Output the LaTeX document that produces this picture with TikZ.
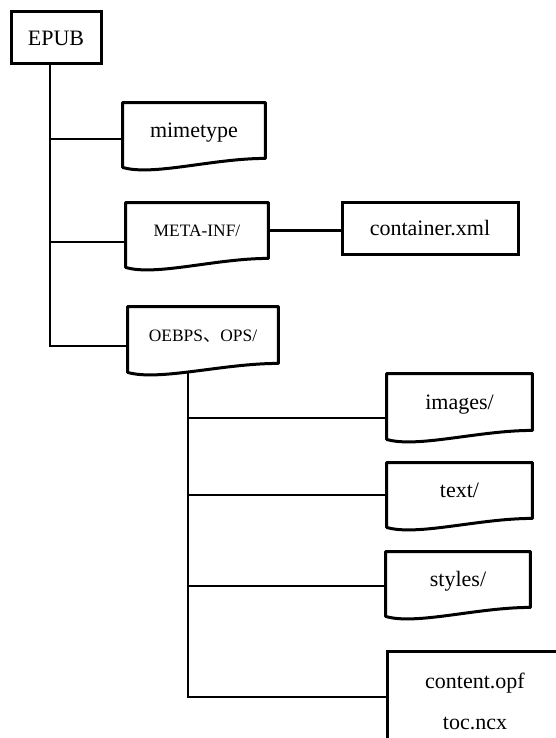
\documentclass[tikz,border=0pt]{standalone}
\usepackage{fontspec}
\setmainfont{Liberation Serif}
\newfontfamily\cjk{Noto Sans CJK SC}
\usetikzlibrary{calc}

% folder / file shape with a wavy bottom edge
\newcommand{\docshape}[1]{%
  \draw[docline] ($(#1.south west)+(0,9)$) -- (#1.north west) -- (#1.north east) -- (#1.south east)
    .. controls ($(#1.south west)!0.63!(#1.south east)$) and ($(#1.south west)!0.21!(#1.south east)+(0,18)$)
    .. ($(#1.south west)+(0,9)$) -- cycle;}

\begin{document}
\begin{tikzpicture}[x=0.5pt, y=-0.5pt,
    docline/.style={line width=1.5pt, line join=round},
    link/.style={line width=1.3pt},
    box/.style={draw, line width=1.5pt, inner sep=0pt, font=\fontsize{11}{13}\selectfont},
    doc/.style={inner sep=0pt, minimum width=72pt, minimum height=27.5pt, text height=7.4pt, text depth=0pt,
                font=\fontsize{11}{13}\selectfont},
    small/.style={text height=6.2pt, font=\fontsize{8.7}{10}\selectfont}]
  \useasboundingbox (0,0) rectangle (556,738);
  \clip (0,0) rectangle (556,738);

  % Root
  \node[box, minimum width=45pt, minimum height=26pt] (epub) at (56,38) {EPUB};

  % First level
  \node[doc, minimum width=71pt] (mime) at (194,130.5) {mimetype};
  \node[doc, small, minimum width=71pt] (meta) at (197,230.5) {META-INF/};
  \node[doc, small, minimum width=75pt, minimum height=28pt] (oebps) at (203,335) {OEBPS{\cjk 、}OPS/};
  \node[box, minimum width=88pt, minimum height=26pt, text height=7.4pt, text depth=0pt] (container) at (430,228) {container.xml};
  \docshape{mime}
  \docshape{meta}
  \docshape{oebps}

  % Second level
  \node[doc, minimum width=72.5pt, minimum height=28pt] (images) at (459.5,402) {images/};
  \node[doc, minimum width=72.5pt] (text) at (459.5,490.5) {text/};
  \node[doc, minimum width=72pt] (styles) at (458,579.5) {styles/};
  \node[box, anchor=north, minimum width=88pt, minimum height=50pt, align=center,
        font=\fontsize{11}{20.5}\selectfont] (content) at (475,650) {content.opf\\toc.ncx};
  \docshape{images}
  \docshape{text}
  \docshape{styles}

  % Branch points
  \coordinate (b1) at (50,139);
  \coordinate (b2) at (50,242);
  \coordinate (b3) at (50,346);
  \coordinate (s1) at (188,418);
  \coordinate (s2) at (188,495);
  \coordinate (s3) at (188,586);
  \coordinate (s4) at (188,697);

  % Connectors
  \draw[link] (b3 |- epub.south) -- (b3) -- (b3 -| oebps.west);
  \draw[link] (b1) -- (b1 -| mime.west);
  \draw[link] (b2) -- (b2 -| meta.west);
  \draw[link] (meta.east) -- (meta.east -| container.west);
  \draw[link] ($(s4 |- oebps.south)+(0,9)$) -- (s4) -- (s4 -| content.west);
  \draw[link] (s1) -- (s1 -| images.west);
  \draw[link] (s2) -- (s2 -| text.west);
  \draw[link] (s3) -- (s3 -| styles.west);
\end{tikzpicture}
\end{document}
